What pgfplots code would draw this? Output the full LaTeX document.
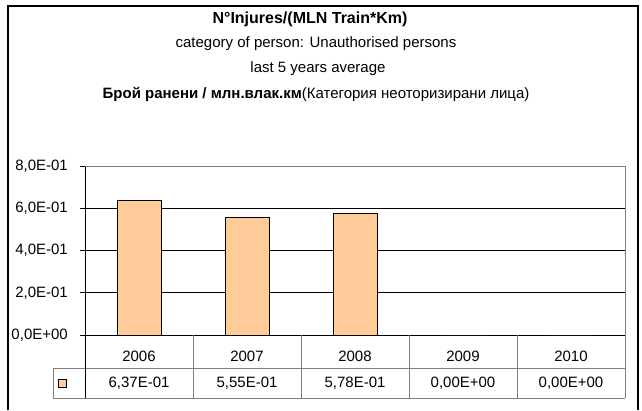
\documentclass[border=0pt]{standalone}
\usepackage{fontspec}
\setmainfont{Liberation Sans}
\usepackage{pgfplots}
\pgfplotsset{compat=1.18}
\definecolor{barorange}{RGB}{255,204,153}
\definecolor{edgegray}{RGB}{128,128,128}
\newcommand{\lbl}{\fontsize{15}{17}\selectfont}
\newcommand{\ttl}{\fontsize{15}{17}\selectfont}
\begin{document}
\begin{tikzpicture}[x=1pt,y=1pt]
\useasboundingbox (0,0) rectangle (642,-410);
% outer chart frame
\draw[black, line width=1.4pt] (8,-410) -- (8,-6) -- (638,-6) -- (638,-410);
% titles
\node[font=\fontsize{16}{18}\selectfont\bfseries] at (310,-19) {N°Injures/(MLN Train*Km)};
\node[font=\ttl] at (316,-44) {category of person: Unauthorised persons};
\node[font=\ttl] at (318,-69) {last 5 years average};
\node at (316,-94) {\ttl\bfseries Брой ранени / млн.влак.км\mdseries(Категория неоторизирани лица)};

\begin{axis}[
    at={(85pt,-335pt)}, anchor=origin,
    scale only axis,
    width=540pt, height=169pt,
    xmin=0.5, xmax=5.5,
    ymin=0, ymax=0.8,
    axis x line*=bottom,
    axis y line*=left,
    axis line style={black, line width=0.8pt},
    xtick={1,2,3,4,5},
    xticklabels={2006,2007,2008,2009,2010},
    x tick style={draw=none},
    xticklabel style={font=\lbl, anchor=center, yshift=-16pt},
    ytick={0,0.2,0.4,0.6,0.8},
    yticklabels={{0,0E+00},{2,0E-01},{4,0E-01},{6,0E-01},{8,0E-01}},
    yticklabel style={font=\lbl, anchor=east, inner sep=0pt, xshift=-12pt},
    tick align=outside,
    major tick length=5pt,
    y tick style={black, line width=0.8pt},
    ymajorgrids=true,
    grid style={black, line width=0.8pt},
    clip=false,
]
\addplot[ybar, bar width=44pt, fill=barorange, draw=black, line width=0.8pt]
coordinates {(1,0.637) (2,0.555) (3,0.578) (4,0) (5,0)};
\end{axis}

% plot area border top/right
\draw[edgegray, line width=0.8pt] (85,-166) -- (625,-166) -- (625,-335);
% data table
\draw[edgegray, line width=0.8pt] (53,-368) -- (625,-368);
\draw[edgegray, line width=0.8pt] (53,-368) -- (53,-398) -- (625,-398);
\foreach \xx in {193,301,409,517,625} {
  \draw[edgegray, line width=0.8pt] (\xx,-335) -- (\xx,-398);
}
\draw[black, line width=0.8pt] (85,-335) -- (85,-398);
\draw[black, line width=0.6pt, fill=barorange] (58.5,-379) rectangle (66.5,-387);
\foreach \xx/\vv in {139/{6,37E-01},247/{5,55E-01},355/{5,78E-01},463/{0,00E+00},571/{0,00E+00}} {
  \node[font=\lbl] at (\xx,-383) {\vv};
}
\end{tikzpicture}
\end{document}
